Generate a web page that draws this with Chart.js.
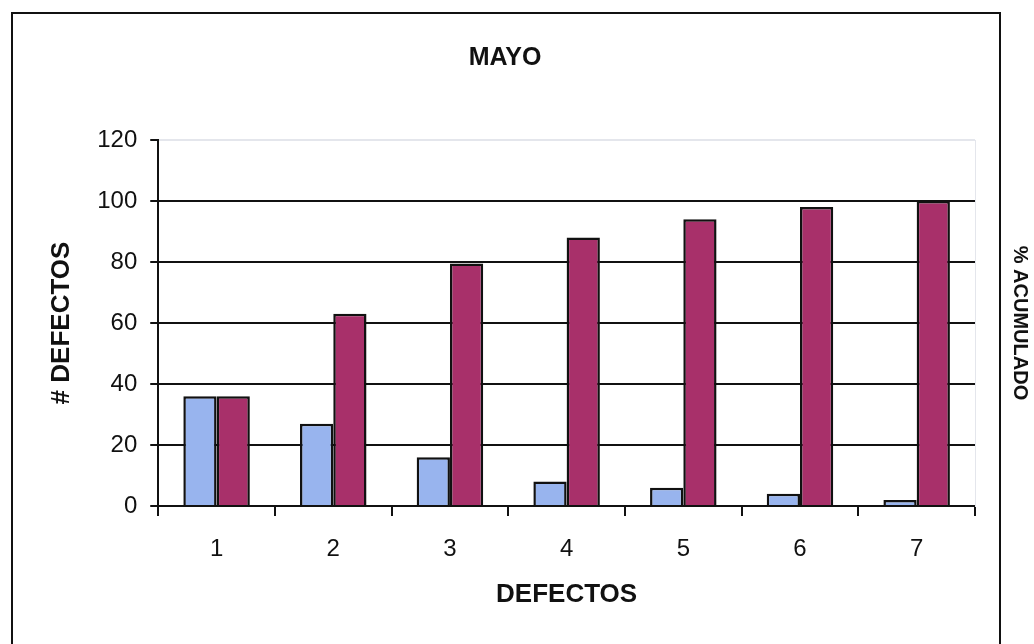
<!DOCTYPE html>
<html>
<head>
<meta charset="utf-8">
<script src="https://cdn.jsdelivr.net/npm/chart.js@4.4.1/dist/chart.umd.min.js"></script>
<style>
  html, body { margin: 0; padding: 0; background: #fff; }
  #wrap { width: 1034px; height: 644px; position: relative; }
</style>
</head>
<body>
<div id="wrap"><canvas id="grafico"></canvas></div>
<script>
// datos
const categorias = ['1', '2', '3', '4', '5', '6', '7'];
const defectos = [36, 27, 16, 8, 6, 4, 2];          // barras azules
const acumulado = [36, 63, 79.5, 88, 94, 98, 100];  // barras moradas
const ticksY = [0, 20, 40, 60, 80, 100, 120];

const fuente = "'Liberation Sans', Arial, sans-serif";

// marco exterior del grafico
const marco = {
    id: 'marco',
    beforeDraw(chart) {
        const c = chart.ctx;
        c.save();
        c.fillStyle = '#fff';
        c.fillRect(0, 0, chart.width, chart.height);
        c.strokeStyle = '#111';
        c.lineWidth = 2;
        c.strokeRect(12, 13, 988, 700);
        c.restore();
    }
};

const ctx = document.getElementById('grafico').getContext('2d');
new Chart(ctx, {
    type: 'bar',
    data: {
        labels: categorias,
        datasets: [{
            data: defectos,
            backgroundColor: '#98b4ee',
            borderColor: '#111',
            borderWidth: 2.5,
            yAxisID: 'y'
        }, {
            data: acumulado,
            backgroundColor: '#a8306a',
            borderColor: '#111',
            borderWidth: 2.5,
            yAxisID: 'y'
        }]
    },
    plugins: [marco],
    options: {
        responsive: true,
        maintainAspectRatio: false,
        animation: false,
        layout: { padding: { left: 0, right: 24, top: 0, bottom: 34 } },
        datasets: { bar: { categoryPercentage: 0.57, barPercentage: 1 } },
        plugins: {
            legend: { display: false },
            tooltip: { enabled: false },
            title: {
                display: true,
                text: 'MAYO',
                color: '#111',
                font: { family: fuente, size: 25, weight: 'bold' },
                padding: { top: 43, bottom: 67 }
            }
        },
        scales: {
            x: {
                grid: {
                    display: true,
                    drawOnChartArea: false,
                    drawTicks: true,
                    tickLength: 10,
                    color: '#111',
                    lineWidth: 2
                },
                border: { display: true, color: '#111', width: 2 },
                ticks: {
                    color: '#111',
                    padding: 19,
                    font: { family: fuente, size: 24 }
                },
                title: {
                    display: true,
                    text: 'DEFECTOS',
                    color: '#111',
                    font: { family: fuente, size: 26, weight: 'bold' },
                    padding: { top: -4, bottom: 0 }
                }
            },
            y: {
                position: 'left',
                min: 0,
                max: 120,
                afterBuildTicks(scale) {
                    scale.ticks = ticksY.map(v => ({ value: v }));
                },
                grid: {
                    color: c => (c.tick && c.tick.value === 120) ? '#e4e6ec' : '#111',
                    tickColor: '#111',
                    lineWidth: 2,
                    drawTicks: true,
                    tickLength: 8
                },
                border: { display: true, color: '#111', width: 2 },
                ticks: {
                    color: '#111',
                    padding: 13,
                    font: { family: fuente, size: 24 }
                },
                title: {
                    display: true,
                    text: '# DEFECTOS',
                    color: '#111',
                    font: { family: fuente, size: 26, weight: 'bold' },
                    padding: { top: 46, bottom: 7 }
                }
            },
            y1: {
                position: 'right',
                min: 0,
                max: 120,
                grid: { display: false, drawTicks: false },
                border: { display: true, color: '#e4e6ec', width: 1 },
                ticks: { display: false },
                title: {
                    display: true,
                    text: '% ACUMULADO',
                    color: '#111',
                    font: { family: fuente, size: 20, weight: 'bold' },
                    padding: { top: -22, bottom: 33 }
                }
            }
        }
    }
});
</script>
</body>
</html>
